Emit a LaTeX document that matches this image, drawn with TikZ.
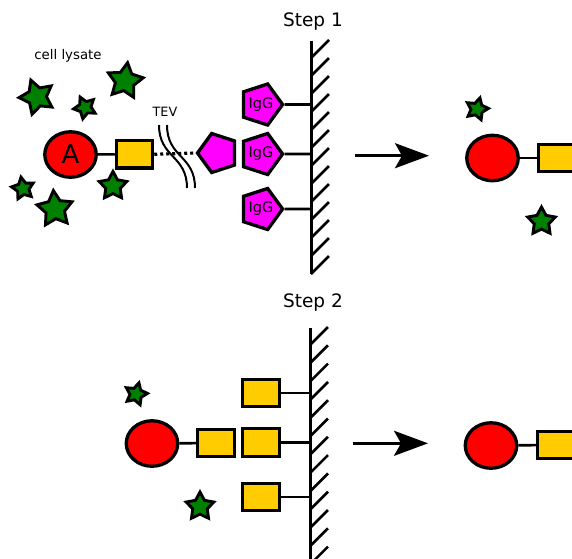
\documentclass[tikz,border=0pt]{standalone}
\usepackage{fontspec}
\setmainfont{DejaVu Sans}
\usetikzlibrary{shapes.geometric,arrows.meta}
\definecolor{beadred}{HTML}{FF0000}
\definecolor{tagyellow}{HTML}{FFCC00}
\definecolor{iggmag}{HTML}{FF00FF}
\definecolor{protgreen}{HTML}{008000}
\begin{document}
\begin{tikzpicture}[x=1pt,y=-1pt,
  bead/.style={ellipse,draw,fill=beadred,line width=3.3pt,minimum width=51.5pt,minimum height=45.5pt,inner sep=0pt},
  tagbox/.style={rectangle,draw,fill=tagyellow,line width=3.2pt,minimum width=36.3pt,minimum height=27.3pt,inner sep=0pt},
  pent/.style={regular polygon,regular polygon sides=5,draw,fill=iggmag,line width=3.3pt,minimum size=41pt,inner sep=0pt,font=\fontsize{14.5}{16}\selectfont},
  iggpent/.style={pent,shape border rotate=-90},
  prot/.style={star,star points=5,star point ratio=1.9,draw,fill=protgreen,line width=2.9pt,inner sep=0pt,minimum size=#1},
  link/.style={line width=2.6pt},
  wallline/.style={line width=3pt},
  hatch/.style={line width=2.6pt},
  steparrow/.style={line width=2.8pt,-{Stealth[length=34pt,width=25pt,inset=7pt]}},
  label/.style={inner sep=0pt}
]
\useasboundingbox (0,0) rectangle (572,558);
\clip (0,0) rectangle (572,558);
\fill[white] (0,0) rectangle (572,558);

% ---------- Step 1 ----------
\node[label,font=\fontsize{18.5}{20}\selectfont] (step1) at (313,21.5) {Step 1};
\node[label,font=\fontsize{13.3}{15}\selectfont] (lysate) at (68,55.5) {cell lysate};
\node[label,font=\fontsize{12.8}{14}\selectfont] (tev) at (165,112) {TEV};

% contaminant proteins
\node[prot=36pt,shape border rotate=20] (s1) at (37,97) {};
\node[prot=23pt,shape border rotate=25] (s2) at (85,107.5) {};
\node[prot=37pt,shape border rotate=-8] (s3) at (125,81) {};
\node[prot=23pt,shape border rotate=10] (s4) at (23,188.5) {};
\node[prot=37pt,shape border rotate=5] (s5) at (55,209) {};
\node[prot=29pt,shape border rotate=0] (s6) at (113,186) {};

% fusion protein
\node[bead,font=\fontsize{26}{28}\selectfont] (beadA) at (70.5,154.5) {A};
\node[tagbox] (tagA) at (134.5,154.3) {};
\node[pent,shape border rotate=90] (protA) at (218,153) {};
\draw[link] (beadA) -- (tagA);
\draw[line width=3.2pt,dash pattern=on 3pt off 3pt] (tagA.east) -- (protA.west);

% TEV cleavage mark
\draw[line width=2pt] (159,125) .. controls (159,158) and (187,155) .. (187,188);
\draw[line width=2pt] (167,125) .. controls (167,158) and (195,155) .. (195,188);

% IgG column
\node[iggpent] (igg1) at (261,104.5) {IgG};
\node[iggpent] (igg2) at (261,154) {IgG};
\node[iggpent] (igg3) at (261,209) {IgG};
\coordinate (w1a) at (311,104.5);
\coordinate (w1b) at (311,154);
\coordinate (w1c) at (311,209);
\draw[link] (igg1.east) -- (w1a);
\draw[link] (igg2.east) -- (w1b);
\draw[link] (igg3.east) -- (w1c);

% wall 1
\coordinate (wall1top) at (311,40.5);
\coordinate (wall1bot) at (311,274);
\draw[wallline] (wall1top) -- (wall1bot);
\foreach \k in {0,...,12} {
  \draw[hatch] (311,58+18*\k) -- ++(18,-18);
}

% arrow 1
\coordinate (a1s) at (355,155.7);
\coordinate (a1e) at (429,155.7);
\draw[steparrow] (a1s) -- (a1e);

% result 1
\node[prot=23pt,shape border rotate=-15] (r1) at (477,109) {};
\node[prot=29pt] (r2) at (541.5,221.5) {};
\node[bead] (beadB) at (492.5,158) {};
\node[tagbox] (tagB) at (556.5,158) {};
\draw[link] (beadB) -- (tagB);

% ---------- Step 2 ----------
\node[label,font=\fontsize{18.5}{20}\selectfont] (step2) at (313,302.5) {Step 2};

\node[prot=23pt,shape border rotate=-15] (t1) at (136,394) {};
\node[prot=29pt] (t2) at (200,506.5) {};
\node[bead] (beadC) at (152,443.5) {};
\node[tagbox] (tagC) at (216,443) {};
\draw[link] (beadC) -- (tagC);

\node[tagbox] (tg1) at (261,393) {};
\node[tagbox] (tg2) at (261,442.5) {};
\node[tagbox] (tg3) at (261,497) {};
\coordinate (w2a) at (310,393);
\coordinate (w2b) at (310,442.5);
\coordinate (w2c) at (310,497);
\draw[link] (tg1.east) -- (w2a);
\draw[link] (tg2.east) -- (w2b);
\draw[link] (tg3.east) -- (w2c);

% wall 2
\coordinate (wall2top) at (310,328);
\coordinate (wall2bot) at (310,562);
\draw[wallline] (wall2top) -- (wall2bot);
\foreach \k in {0,...,12} {
  \draw[hatch] (310,345+18.3*\k) -- ++(18,-18);
}

% arrow 2
\coordinate (a2s) at (353,443.3);
\coordinate (a2e) at (428,443.3);
\draw[steparrow] (a2s) -- (a2e);

% result 2
\node[bead] (beadD) at (491,445.5) {};
\node[tagbox] (tagD) at (555.5,445) {};
\draw[link] (beadD) -- (tagD);
\end{tikzpicture}
\end{document}
